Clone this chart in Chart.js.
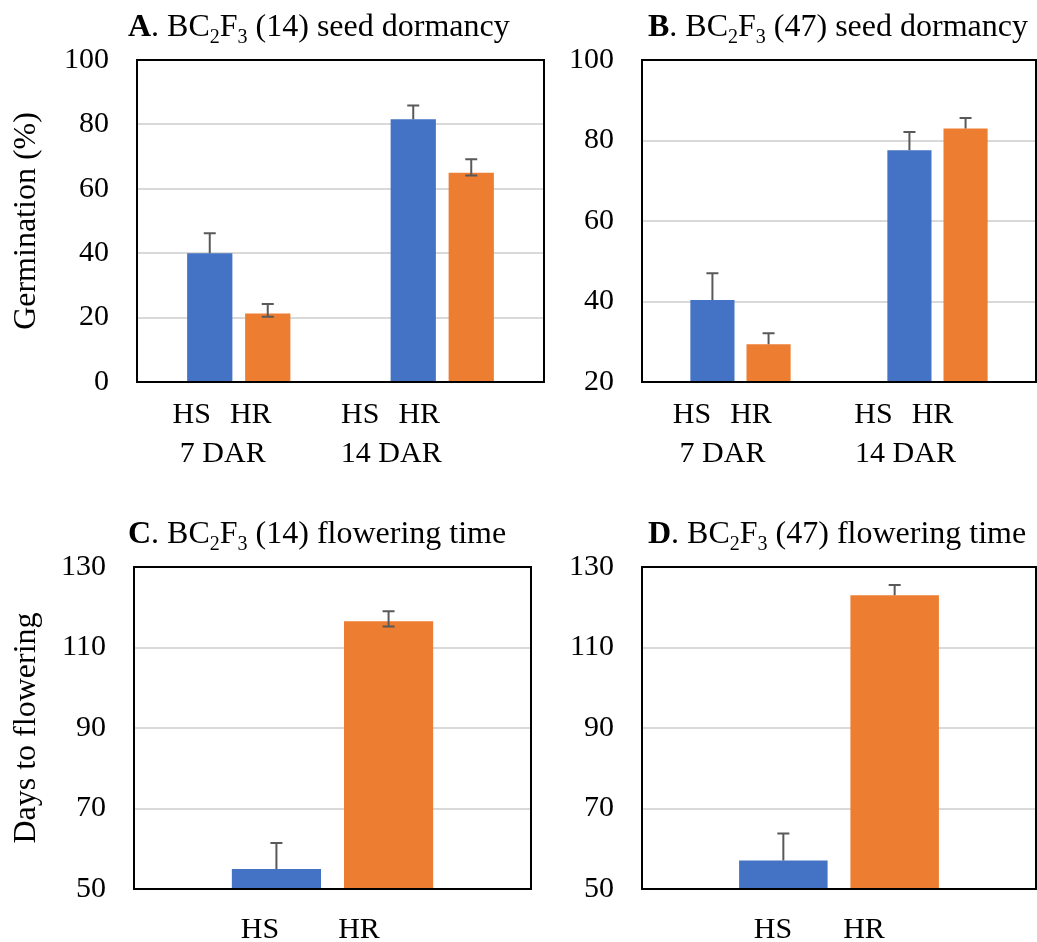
<!DOCTYPE html>
<html>
<head>
<meta charset="utf-8">
<title>BC2F3 seed dormancy and flowering time</title>
<script src="https://cdn.jsdelivr.net/npm/chart.js@4.4.1/dist/chart.umd.min.js"></script>
<style>
  body { margin: 0; background: #fff; }
  #wrap { position: relative; width: 1037px; height: 942px; }
  canvas { position: absolute; }
</style>
</head>
<body>
<div id="wrap">
  <canvas id="chartA" width="548" height="470" style="left:0;top:0"></canvas>
  <canvas id="chartB" width="489" height="470" style="left:548px;top:0"></canvas>
  <canvas id="chartC" width="548" height="472" style="left:0;top:470px"></canvas>
  <canvas id="chartD" width="489" height="472" style="left:548px;top:470px"></canvas>
</div>
<script>
// Germination (%) at 7 and 14 days after ripening
const dormancyGroups = ['7 DAR', '14 DAR'];
const genotypes = ['HS', 'HR'];

// BC2F3 line 14
const germ14HS = [40.0, 81.6];
const germ14HSErr = [6.2, 4.3];
const germ14HR = [21.3, 65.0];
const germ14HRErrUp = [2.9, 4.2];
const germ14HRErrDown = [1.0, 0.9];

// BC2F3 line 47
const germ47HS = [40.4, 77.6];
const germ47HSErr = [6.6, 4.5];
const germ47HR = [29.4, 83.0];
const germ47HRErr = [2.7, 2.6];

// Days to flowering (one group, HS vs HR)
const flowerGroups = [''];
const flower14HS = [55.0];
const flower14HSErr = [6.4];
const flower14HR = [116.5];
const flower14HRErrUp = [2.5];
const flower14HRErrDown = [1.3];
const flower47HS = [57.1];
const flower47HSErr = [6.7];
const flower47HR = [123.0];
const flower47HRErr = [2.5];

// y axis ticks
const germ14YTicks = [0, 20, 40, 60, 80, 100];
const germ47YTicks = [20, 40, 60, 80, 100];
const flowerYTicks = [50, 70, 90, 110, 130];

const BLUE = '#4472C4';
const ORANGE = '#ED7D31';
const FONT = "'Times New Roman', 'Liberation Serif', serif";

Chart.defaults.font.family = FONT;
Chart.defaults.color = '#000';

// Plot frame around the chart area
const plotFrame = {
  id: 'plotFrame',
  afterDatasetsDraw(chart) {
    const { ctx, chartArea: a } = chart;
    ctx.save();
    ctx.strokeStyle = '#000';
    ctx.lineWidth = 2;
    ctx.strokeRect(a.left, a.top, a.right - a.left, a.bottom - a.top);
    ctx.restore();
  },
};

// Error bars from dataset.errUp / dataset.errDown
const errorBars = {
  id: 'errorBars',
  afterDatasetsDraw(chart) {
    const { ctx } = chart;
    const y = chart.scales.y;
    const cap = 6;
    ctx.save();
    ctx.strokeStyle = '#595959';
    ctx.lineWidth = 2;
    chart.data.datasets.forEach((ds, di) => {
      const meta = chart.getDatasetMeta(di);
      meta.data.forEach((bar, i) => {
        const v = ds.data[i];
        const up = ds.errUp ? ds.errUp[i] : 0;
        const down = ds.errDown ? ds.errDown[i] : 0;
        const yTop = y.getPixelForValue(v + up);
        const yBot = y.getPixelForValue(v - down);
        ctx.beginPath();
        ctx.moveTo(bar.x, yTop);
        ctx.lineTo(bar.x, yBot);
        ctx.moveTo(bar.x - cap, yTop);
        ctx.lineTo(bar.x + cap, yTop);
        if (down > 0) {
          ctx.moveTo(bar.x - cap, yBot);
          ctx.lineTo(bar.x + cap, yBot);
        }
        ctx.stroke();
      });
    });
    ctx.restore();
  },
};

// Panel title with bold letter and subscripts
const panelTitle = {
  id: 'panelTitle',
  afterDraw(chart, args, opts) {
    if (!opts.parts) return;
    const { ctx } = chart;
    let x = opts.x;
    ctx.save();
    ctx.fillStyle = '#000';
    ctx.textBaseline = 'alphabetic';
    ctx.textAlign = 'left';
    opts.parts.forEach((p) => {
      const size = p.sub ? opts.subSize : opts.size;
      ctx.font = `${p.bold ? 'bold ' : ''}${size}px ${FONT}`;
      ctx.fillText(p.text, x, opts.y + (p.sub ? opts.subShift : 0));
      x += ctx.measureText(p.text).width;
    });
    ctx.restore();
  },
};

// Genotype and group labels under the bars
const groupLabels = {
  id: 'groupLabels',
  afterDraw(chart, args, opts) {
    if (!opts.genotype) return;
    const { ctx, chartArea } = chart;
    const xs = chart.scales.x;
    const groups = chart.data.labels;
    ctx.save();
    ctx.fillStyle = '#000';
    ctx.font = `${opts.size}px ${FONT}`;
    ctx.textAlign = 'center';
    ctx.textBaseline = 'alphabetic';
    groups.forEach((g, ci) => {
      const cx = xs.getPixelForValue(ci);
      opts.genotype[ci].forEach((dx, gi) => {
        ctx.fillText(genotypes[gi], cx + dx, chartArea.bottom + opts.rows[0]);
      });
      if (opts.group) {
        ctx.fillText(g, cx + opts.group[ci], chartArea.bottom + opts.rows[1]);
      }
    });
    ctx.restore();
  },
};

function titleParts(letter, line, trait) {
  return [
    { text: letter, bold: true },
    { text: '. BC' },
    { text: '2', sub: true },
    { text: 'F' },
    { text: '3', sub: true },
    { text: ` (${line}) ${trait}` },
  ];
}

function makePanel(id, cfg) {
  const ticks = cfg.yTicks;
  return new Chart(document.getElementById(id), {
    type: 'bar',
    data: {
      labels: cfg.labels,
      datasets: cfg.series.map((s) => ({
        label: s.label,
        data: s.data,
        errUp: s.errUp,
        errDown: s.errDown,
        backgroundColor: s.color,
        borderWidth: 0,
        categoryPercentage: cfg.catPct,
        barPercentage: cfg.barPct,
      })),
    },
    options: {
      responsive: false,
      animation: false,
      layout: {
        padding: { left: 0, top: cfg.area.top, right: cfg.area.right, bottom: cfg.area.bottom },
      },
      scales: {
        x: { display: false },
        y: {
          min: ticks[0],
          max: ticks[ticks.length - 1],
          afterFit(scale) {
            scale.width = cfg.area.left;
          },
          afterBuildTicks(scale) {
            scale.ticks = ticks.map((v) => ({ value: v }));
          },
          grid: { color: '#d9d9d9', lineWidth: 2, drawTicks: false },
          border: { display: false },
          ticks: { padding: 28, font: { size: 30 }, color: '#000' },
          title: {
            display: !!cfg.yTitle,
            text: cfg.yTitle,
            font: { size: 32 },
            color: '#000',
            padding: { top: 7, bottom: 0 },
          },
        },
      },
      plugins: {
        legend: { display: false },
        tooltip: { enabled: false },
        panelTitle: { parts: cfg.title.parts, x: cfg.title.x, y: cfg.title.y, size: 32, subSize: 20, subShift: 7 },
        groupLabels: { size: 30, rows: cfg.rows, genotype: cfg.genotypeDx, group: cfg.groupDx },
      },
    },
    plugins: [plotFrame, errorBars, panelTitle, groupLabels],
  });
}

makePanel('chartA', {
  labels: dormancyGroups,
  series: [
    { label: genotypes[0], data: germ14HS, errUp: germ14HSErr, color: BLUE },
    { label: genotypes[1], data: germ14HR, errUp: germ14HRErrUp, errDown: germ14HRErrDown, color: ORANGE },
  ],
  yTicks: germ14YTicks,
  yTitle: 'Germination (%)',
  area: { left: 137, top: 60, right: 4, bottom: 88 },
  catPct: 0.57,
  barPct: 0.78,
  title: { parts: titleParts('A', 14, 'seed dormancy'), x: 128, y: 36 },
  rows: [41, 80],
  genotypeDx: [[-47, 12], [-82, -23]],
  groupDx: [-16, -51],
});

makePanel('chartB', {
  labels: dormancyGroups,
  series: [
    { label: genotypes[0], data: germ47HS, errUp: germ47HSErr, color: BLUE },
    { label: genotypes[1], data: germ47HR, errUp: germ47HRErr, color: ORANGE },
  ],
  yTicks: germ47YTicks,
  area: { left: 94, top: 60, right: 1, bottom: 88 },
  catPct: 0.57,
  barPct: 0.786,
  title: { parts: titleParts('B', 47, 'seed dormancy'), x: 100, y: 36 },
  rows: [41, 80],
  genotypeDx: [[-48.5, 10.5], [-64, -5]],
  groupDx: [-18, -32],
});

makePanel('chartC', {
  labels: flowerGroups,
  series: [
    { label: genotypes[0], data: flower14HS, errUp: flower14HSErr, color: BLUE },
    { label: genotypes[1], data: flower14HR, errUp: flower14HRErrUp, errDown: flower14HRErrDown, color: ORANGE },
  ],
  yTicks: flowerYTicks,
  yTitle: 'Days to flowering',
  area: { left: 134, top: 97, right: 17, bottom: 53 },
  catPct: 0.565,
  barPct: 0.795,
  title: { parts: titleParts('C', 14, 'flowering time'), x: 128, y: 73 },
  rows: [49],
  genotypeDx: [[-72.5, 26.5]],
  groupDx: null,
});

makePanel('chartD', {
  labels: flowerGroups,
  series: [
    { label: genotypes[0], data: flower47HS, errUp: flower47HSErr, color: BLUE },
    { label: genotypes[1], data: flower47HR, errUp: flower47HRErr, color: ORANGE },
  ],
  yTicks: flowerYTicks,
  area: { left: 94, top: 97, right: 1, bottom: 53 },
  catPct: 0.565,
  barPct: 0.795,
  title: { parts: titleParts('D', 47, 'flowering time'), x: 100, y: 73 },
  rows: [49],
  genotypeDx: [[-66, 25]],
  groupDx: null,
});
</script>
</body>
</html>
